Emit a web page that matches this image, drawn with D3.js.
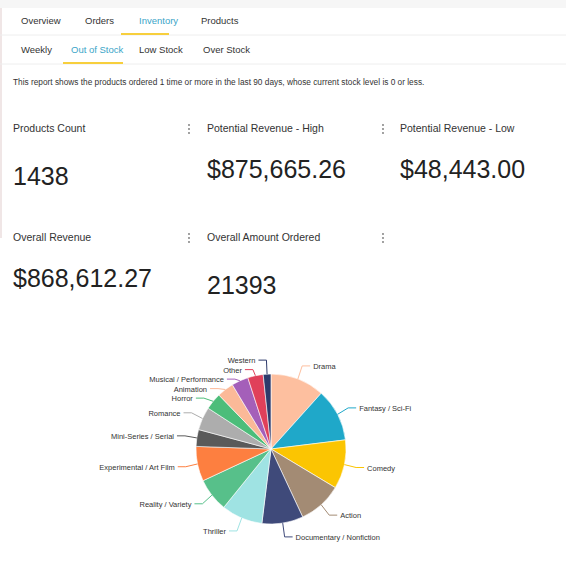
<!DOCTYPE html>
<html><head><meta charset="utf-8">
<script src="https://cdn.jsdelivr.net/npm/d3@7"></script>
<style>body{margin:0;background:#fff;font-family:"Liberation Sans",Arial,sans-serif}</style>
</head><body><svg id="c" width="566" height="580"></svg>
<script>
const mainTabs=["Overview","Orders","Inventory","Products"];
const subTabs=["Weekly","Out of Stock","Low Stock","Over Stock"];
const description="This report shows the products ordered 1 time or more in the last 90 days, whose current stock level is 0 or less.";
const kpiLabels=["Products Count","Potential Revenue - High","Potential Revenue - Low","Overall Revenue","Overall Amount Ordered"];
const kpiValues=["1438","$875,665.26","$48,443.00","$868,612.27","21393"];
const categories=["Drama","Fantasy / Sci-Fi","Comedy","Action","Documentary / Nonfiction","Thriller","Reality / Variety","Experimental / Art Film","Mini-Series / Serial","Romance","Horror","Animation","Musical / Performance","Other","Western"];
const values=[42,41,38,34,32,32,26,27,13,18,13,13,13,12,6];
const colors=["#fdbf9f","#1fa8c9","#fbc502","#a38b74","#3f4a7a","#9fe3e3","#57c08a","#fd7f40","#5a5a5a","#adadad","#4cbd7a","#fbb998","#a45fb9","#e0405a","#2d3a6b"];

const svg=d3.select("#c");
svg.append("rect").attr("width",566).attr("height",8).attr("fill","#f6f6f6");
svg.append("rect").attr("x",0).attr("y",8).attr("width",2).attr("height",230).attr("fill","#f0e6e6");
// tabs
const mx=[21,85,139,201];
mainTabs.forEach((t,i)=>svg.append("text").attr("x",mx[i]).attr("y",24).attr("font-size",9.5).attr("fill",i==2?"#3aa5c8":"#333").text(t));
svg.append("line").attr("x1",0).attr("x2",566).attr("y1",35).attr("y2",35).attr("stroke","#eee");
svg.append("rect").attr("x",121).attr("y",33).attr("width",48).attr("height",2).attr("fill","#f7cf3d");
const sx=[21,71,139,203];
subTabs.forEach((t,i)=>svg.append("text").attr("x",sx[i]).attr("y",53).attr("font-size",9.5).attr("fill",i==1?"#3aa5c8":"#333").text(t));
svg.append("line").attr("x1",0).attr("x2",566).attr("y1",64).attr("y2",64).attr("stroke","#eee");
svg.append("rect").attr("x",63).attr("y",62).attr("width",60).attr("height",2).attr("fill","#f7cf3d");
svg.append("text").attr("x",13).attr("y",85).attr("font-size",8.3).attr("fill","#333").text(description);
// KPIs
const kx=[13,207,400,13,207], ly=[132,132,132,241,241], vy=[185,178,178,287,294], dx=[189,383,null,189,383];
kpiLabels.forEach((l,i)=>{
  svg.append("text").attr("x",kx[i]).attr("y",ly[i]).attr("font-size",10.5).attr("fill","#333").text(l);
  svg.append("text").attr("x",kx[i]).attr("y",vy[i]).attr("font-size",25).attr("fill","#222").text(kpiValues[i]);
  if(dx[i]!=null)[0,1,2].forEach(k=>svg.append("circle").attr("cx",dx[i]).attr("cy",ly[i]-7+k*4).attr("r",0.9).attr("fill","#777"));
});
// pie
const cx=271,cy=449,r=75;
const pie=d3.pie().sort(null).value(d=>d)(values);
const arc=d3.arc().innerRadius(0).outerRadius(r);
const g=svg.append("g").attr("transform",`translate(${cx},${cy})`);
g.selectAll("path").data(pie).join("path").attr("d",arc).attr("fill",(d,i)=>colors[i]).attr("stroke","#fff").attr("stroke-width",0.6);
// labels
const labs=pie.map((d,i)=>{const m=(d.startAngle+d.endAngle)/2;const right=Math.sin(m)>=0;
  return {i,m,right,y:-(r+14)*Math.cos(m),px:(r)*Math.sin(m),py:-(r)*Math.cos(m)};});
["left","right"].forEach(side=>{
  const L=labs.filter(l=>(side=="right")==l.right).sort((a,b)=>a.y-b.y);
  for(let k=1;k<L.length;k++) if(L[k].y-L[k-1].y<9.5) L[k].y=L[k-1].y+9.5;
  for(let k=L.length-2;k>=0;k--) if(L[k+1].y-L[k].y<9.5) L[k].y=L[k+1].y-9.5;
});
labs.forEach(l=>{
  const ex=(r+12)*Math.sin(l.m)*(Math.abs(Math.cos(l.m))>0.9?1:1);
  const bx=ex+(l.right?8:-8);
  g.append("polyline").attr("points",`${l.px},${l.py} ${ex},${l.y} ${bx},${l.y}`).attr("fill","none").attr("stroke",colors[l.i]).attr("stroke-width",1);
  g.append("text").attr("x",bx+(l.right?3:-3)).attr("y",l.y+3).attr("text-anchor",l.right?"start":"end").attr("font-size",7.5).attr("fill","#333").text(categories[l.i]);
});
</script></body></html>
